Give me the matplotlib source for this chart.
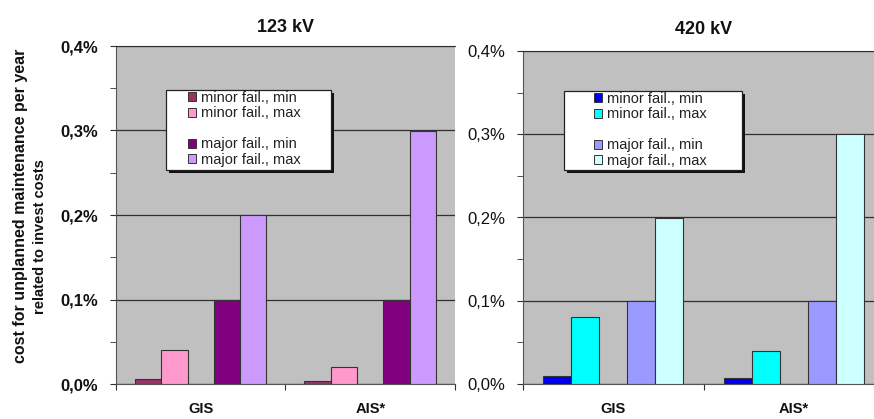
import matplotlib

matplotlib.use("Agg")
import matplotlib.pyplot as plt
from matplotlib.patches import Patch, Rectangle
from matplotlib.ticker import FixedLocator, FuncFormatter, MultipleLocator

plt.rcParams["font.family"] = ["Liberation Sans", "DejaVu Sans"]

# cost values in % of invest costs per year
CATEGORIES = ["GIS", "AIS*"]
SERIES = ["minor fail., min", "minor fail., max", "major fail., min", "major fail., max"]

KV123_MINOR_MIN = [0.006, 0.004]
KV123_MINOR_MAX = [0.04, 0.02]
KV123_MAJOR_MIN = [0.1, 0.1]
KV123_MAJOR_MAX = [0.2, 0.3]

KV420_MINOR_MIN = [0.01, 0.007]
KV420_MINOR_MAX = [0.08, 0.04]
KV420_MAJOR_MIN = [0.1, 0.1]
KV420_MAJOR_MAX = [0.2, 0.3]

COLORS_123 = ["#993366", "#ff99cc", "#800080", "#cc99ff"]
COLORS_420 = ["#0000ee", "#00ffff", "#9999ff", "#ccffff"]

W, H = 874, 419
PLOT_BG = "#c0c0c0"
GRID = "#303030"
INK = "#111111"


def fx(px):
    return px / W


def fy(py):
    return 1 - py / H


def pct(v, _pos=None):
    return f"{v:.1f}%".replace(".", ",")


def draw_panel(ax, series, colors, title, bold_ticks, title_pad):
    ax.set_facecolor(PLOT_BG)
    bw = 0.155
    start = 0.112
    # five slots per category, the middle one left empty
    slots = [0, 1, 3, 4]
    for vals, color, slot in zip(series, colors, slots):
        lefts = [i + start + slot * bw for i in range(len(CATEGORIES))]
        ax.bar(lefts, vals, width=bw, align="edge", color=color,
               edgecolor="#333333", linewidth=0.8, zorder=3)
    ax.set_xlim(0, len(CATEGORIES))
    ax.set_ylim(0, 0.4)
    ax.yaxis.set_major_locator(MultipleLocator(0.1))
    ax.yaxis.set_minor_locator(MultipleLocator(0.05))
    ax.yaxis.set_major_formatter(FuncFormatter(pct))
    ax.grid(axis="y", which="major", color=GRID, linewidth=0.9, zorder=1)
    ax.xaxis.set_major_locator(FixedLocator(range(len(CATEGORIES) + 1)))
    ax.xaxis.set_major_formatter(FuncFormatter(lambda v, p: ""))
    ax.xaxis.set_minor_locator(FixedLocator([i + 0.5 for i in range(len(CATEGORIES))]))
    ax.set_xticklabels(CATEGORIES, minor=True)
    ax.tick_params(axis="x", which="major", direction="out", length=4, color=GRID)
    ax.tick_params(axis="x", which="minor", length=0, pad=13, labelsize=10.5,
                   labelcolor=INK)
    for lab in ax.get_xticklabels(minor=True):
        lab.set_fontweight("bold")
    ax.tick_params(axis="y", which="both", direction="out", length=4, color=GRID,
                   labelsize=12, labelcolor=INK, pad=9)
    if bold_ticks:
        for lab in ax.get_yticklabels():
            lab.set_fontweight("bold")
    ax.spines["right"].set_visible(False)
    ax.spines["top"].set_color(GRID)
    ax.spines["left"].set_color("#555555")
    ax.spines["bottom"].set_color("#555555")
    ax.set_title(title, fontsize=13, fontweight="bold", color=INK, pad=title_pad)


def draw_legend(fig, box, handle_x, top, colors):
    x0, y0, x1, y1 = box
    shadow = Rectangle((fx(x0 + 3), fy(y1 + 3)), fx(x1 - x0), (y1 - y0) / H,
                       transform=fig.transFigure, facecolor="#111111",
                       edgecolor="none", zorder=5)
    frame = Rectangle((fx(x0), fy(y1)), fx(x1 - x0), (y1 - y0) / H,
                      transform=fig.transFigure, facecolor="white",
                      edgecolor="#222222", linewidth=0.9, zorder=6)
    fig.add_artist(shadow)
    fig.add_artist(frame)
    handles = [Patch(facecolor=c, edgecolor="#333333", linewidth=0.7, label=s)
               for c, s in zip(colors[:2], SERIES[:2])]
    handles.append(Patch(facecolor="none", edgecolor="none", label=" "))
    handles += [Patch(facecolor=c, edgecolor="#333333", linewidth=0.7, label=s)
                for c, s in zip(colors[2:], SERIES[2:])]
    leg = fig.legend(handles=handles, loc="upper left",
                     bbox_to_anchor=(fx(handle_x), fy(top)), frameon=False,
                     fontsize=10.5, labelcolor="#222222", borderpad=0,
                     borderaxespad=0, labelspacing=0.1, handlelength=0.55,
                     handleheight=0.55, handletextpad=0.35)
    leg.set_zorder(7)


fig = plt.figure(figsize=(W / 100, H / 100), dpi=100)

ax1 = fig.add_axes([fx(116), fy(384), fx(455 - 116), (384 - 46) / H])
draw_panel(ax1, [KV123_MINOR_MIN, KV123_MINOR_MAX, KV123_MAJOR_MIN, KV123_MAJOR_MAX],
           COLORS_123, "123 kV", True, 10)

# right panel runs past the figure edge
ax2 = fig.add_axes([fx(523), fy(384), fx(884 - 523), (384 - 51) / H])
draw_panel(ax2, [KV420_MINOR_MIN, KV420_MINOR_MAX, KV420_MAJOR_MIN, KV420_MAJOR_MAX],
           COLORS_420, "420 kV", False, 12)

fig.text(fx(21), fy(206), "cost for unplanned maintenance per year", rotation=90,
         ha="center", va="center", fontsize=11.5, fontweight="bold", color=INK)
fig.text(fx(40), fy(237), "related to invest costs", rotation=90,
         ha="center", va="center", fontsize=10.5, fontweight="bold", color=INK)

draw_legend(fig, (166, 90, 331, 170), 188, 91, COLORS_123)
draw_legend(fig, (564, 91, 742, 170), 594, 92, COLORS_420)

fig.savefig("out.png", dpi=100, facecolor="white")
